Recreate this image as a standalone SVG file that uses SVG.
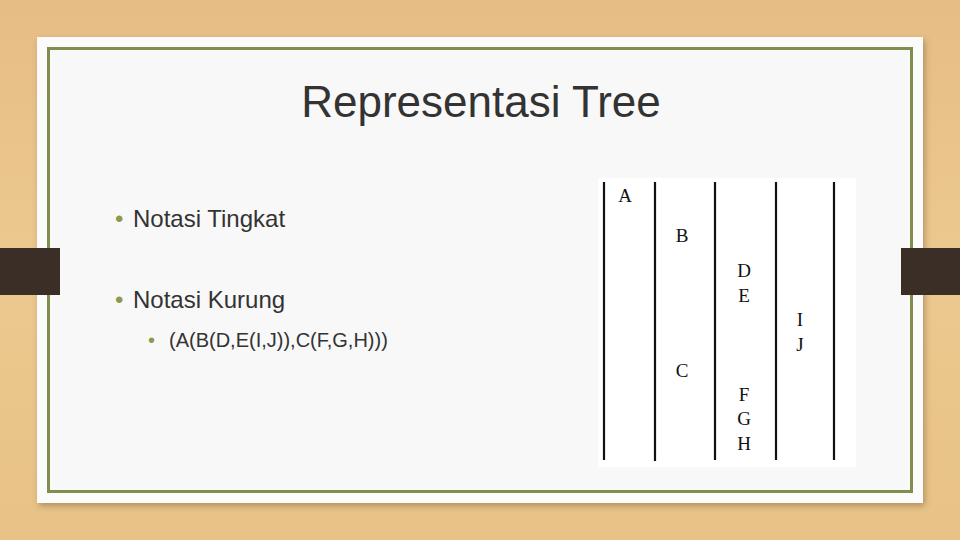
<svg xmlns="http://www.w3.org/2000/svg" width="960" height="540" viewBox="0 0 960 540">
<defs>
<linearGradient id="wood" x1="0" y1="0" x2="0" y2="1">
<stop offset="0" stop-color="#e6bd85"/>
<stop offset="0.5" stop-color="#ecc98f"/>
<stop offset="1" stop-color="#e8c286"/>
</linearGradient>
<filter id="sh" x="-5%" y="-5%" width="110%" height="115%">
<feDropShadow dx="2" dy="3" stdDeviation="3" flood-color="#6b5433" flood-opacity="0.45"/>
</filter>
<style>
.t{font-family:"Liberation Sans",Arial,sans-serif;fill:#333}
.b{fill:#8a9a4f;font-family:"Liberation Sans",Arial,sans-serif}
.s{font-family:"Liberation Serif","Times New Roman",serif;font-size:19px;fill:#111}
.v{stroke:#111;stroke-width:2.2}
</style>
</defs>
<rect width="960" height="540" fill="url(#wood)"/>
<rect x="37" y="37" width="886" height="466" fill="#fbfbfb" filter="url(#sh)"/>
<rect x="48.5" y="48.5" width="863" height="443" fill="#f8f8f8" stroke="#7d8f4a" stroke-width="3"/>
<g id="tabs">
<rect x="0" y="248" width="60" height="47" fill="#3a2e26"/>
<rect x="901" y="248" width="59" height="47" fill="#3a2e26"/>
</g>
<g id="title"><text class="t" x="481" y="117" font-size="44" text-anchor="middle" fill="#222">Representasi Tree</text></g>
<g id="bullets">
<text class="b" x="115" y="227" font-size="24">•</text>
<text class="t" x="133" y="227" font-size="24">Notasi Tingkat</text>
<text class="b" x="115" y="308" font-size="24">•</text>
<text class="t" x="133" y="308" font-size="24">Notasi Kurung</text>
<text class="b" x="148" y="347" font-size="20">•</text>
<text class="t" x="169" y="347" font-size="20">(A(B(D,E(I,J)),C(F,G,H)))</text>
</g>
<g id="table">
<rect x="598" y="178" width="258" height="289" fill="#ffffff"/>
<line class="v" x1="604" y1="182" x2="604" y2="460"/>
<line class="v" x1="655" y1="182" x2="655" y2="461"/>
<line class="v" x1="715" y1="182" x2="715" y2="460"/>
<line class="v" x1="776" y1="182" x2="776" y2="460"/>
<line class="v" x1="834" y1="182" x2="834" y2="460"/>
<text class="s" x="625" y="202" text-anchor="middle">A</text>
<text class="s" x="682" y="242" text-anchor="middle">B</text>
<text class="s" x="744" y="277" text-anchor="middle">D</text>
<text class="s" x="744" y="302" text-anchor="middle">E</text>
<text class="s" x="800" y="326" text-anchor="middle">I</text>
<text class="s" x="800" y="351" text-anchor="middle">J</text>
<text class="s" x="682" y="377" text-anchor="middle">C</text>
<text class="s" x="744" y="401" text-anchor="middle">F</text>
<text class="s" x="744" y="425" text-anchor="middle">G</text>
<text class="s" x="744" y="450" text-anchor="middle">H</text>
</g>
</svg>
